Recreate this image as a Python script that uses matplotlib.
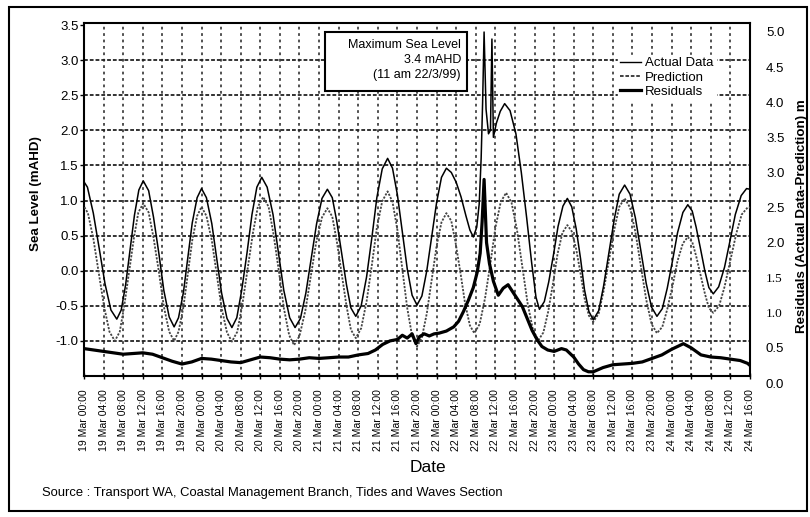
import numpy as np
import matplotlib.pyplot as plt
from matplotlib.patches import Rectangle
from matplotlib.lines import Line2D

plt.rcParams['font.family'] = ['Liberation Sans', 'DejaVu Sans']

# hours after 19 Mar 1999 00:00
actual_t = [-0.5, 0.7, 1.9, 3.1, 4.3, 5.5, 6.7, 7.6, 8.5, 9.4, 10.3, 11.2, 12.1,
            13.2, 14.2, 15.3, 16.3, 17.4, 18.4, 19.3, 20.3, 21.2, 22.1, 23.1, 24.0,
            25.0, 26.1, 27.1, 28.1, 29.2, 30.2, 31.2, 32.2, 33.3, 34.3, 35.3, 36.3,
            37.4, 38.6, 39.7, 40.8, 42.0, 43.1, 44.2, 45.3, 46.4, 47.5, 48.6, 49.7,
            50.7, 51.6, 52.6, 53.6, 54.5, 55.5, 56.6, 57.7, 58.8, 59.8, 60.9, 62.0,
            63, 64, 65, 66, 67, 68, 69, 70, 71, 72, 73, 74,
            75, 76, 77, 78, 78.8, 79.5, 80.2, 80.7, 81.1, 81.4, 81.7, 82.1, 82.6, 83.0,
            83.3, 83.6, 84.2, 85.0, 85.9, 87.0, 88.2, 89.3, 90.4, 91.4, 92.3, 93.0,
            94.0, 94.9, 95.9, 96.8, 97.8, 98.7, 99.6, 100.5, 101.4, 102.2, 103.1, 104.0,
            105.1, 106.1, 107.2, 108.3, 109.3, 110.4, 111.5, 112.6, 113.7, 114.8, 115.9, 117.0,
            118.1, 119.1, 120.2, 121.2, 122.3, 123.3, 124.2, 125.0, 125.9, 126.8, 127.6, 128.5,
            129.6, 130.8, 131.9, 133.0, 134.2, 135.3, 136.0]
actual_v = [1.32, 1.19, 0.82, 0.32, -0.19, -0.56, -0.69, -0.56, -0.20, 0.30, 0.79, 1.15, 1.28,
            1.14, 0.76, 0.24, -0.28, -0.66, -0.80, -0.67, -0.31, 0.19, 0.68, 1.04, 1.17,
            1.04, 0.67, 0.18, -0.32, -0.68, -0.81, -0.67, -0.28, 0.26, 0.80, 1.19, 1.33,
            1.19, 0.80, 0.26, -0.28, -0.67, -0.81, -0.68, -0.32, 0.18, 0.67, 1.03, 1.16,
            1.04, 0.71, 0.26, -0.20, -0.53, -0.65, -0.50, -0.09, 0.48, 1.04, 1.45, 1.60,
            1.46, 1.08, 0.56, 0.03, -0.35, -0.49, -0.36, 0.00, 0.49, 0.97, 1.33, 1.46,
            1.40, 1.26, 1.05, 0.78, 0.58, 0.48, 0.62, 0.95, 1.60, 2.40, 3.40, 2.30, 1.95, 2.00,
            3.30, 1.90, 2.10, 2.27, 2.38, 2.28, 1.95, 1.40, 0.75, 0.12, -0.38, -0.55,
            -0.44, -0.16, 0.24, 0.63, 0.92, 1.03, 0.91, 0.60, 0.17, -0.27, -0.58, -0.70,
            -0.57, -0.22, 0.26, 0.74, 1.09, 1.22, 1.09, 0.75, 0.29, -0.18, -0.52, -0.65,
            -0.54, -0.25, 0.15, 0.54, 0.83, 0.94, 0.85, 0.62, 0.31, -0.01, -0.24, -0.33,
            -0.23, 0.05, 0.42, 0.80, 1.07, 1.17, 1.16]

pred_t = [-0.3, 0.8, 1.9, 3.0, 4.1, 5.2, 6.3, 7.3, 8.2, 9.2, 10.2, 11.1, 12.1,
          13.2, 14.2, 15.3, 16.3, 17.4, 18.4, 19.3, 20.3, 21.2, 22.1, 23.1, 24.0,
          25.0, 26.1, 27.1, 28.1, 29.2, 30.2, 31.3, 32.3, 33.4, 34.5, 35.5, 36.6,
          37.7, 38.7, 39.8, 40.8, 41.9, 42.9, 44.0, 45.2, 46.3, 47.4, 48.6, 49.7,
          50.7, 51.6, 52.6, 53.6, 54.5, 55.5, 56.6, 57.7, 58.8, 59.8, 60.9, 62.0,
          63, 64, 65, 66, 67, 68, 69, 70, 71, 72, 73, 74,
          75.0, 75.9, 76.9, 77.8, 78.8, 79.7, 80.8, 81.9, 83.0, 84.0, 85.1, 86.2,
          87.3, 88.4, 89.5, 90.6, 91.7, 92.8, 93.8, 94.8, 95.8, 96.7, 97.7, 98.7,
          99.6, 100.5, 101.4, 102.2, 103.1, 104.0, 105.1, 106.1, 107.2, 108.3, 109.3, 110.4,
          111.5, 112.6, 113.7, 114.8, 115.9, 117.0, 118.1, 119.1, 120.2, 121.2, 122.3, 123.3,
          124.2, 125.0, 125.9, 126.8, 127.6, 128.5, 129.7, 130.8, 132.0, 133.2, 134.3, 135.5, 136.0]
pred_v = [0.95, 0.82, 0.46, -0.03, -0.51, -0.87, -1.00, -0.87, -0.51, -0.02, 0.47, 0.83, 0.96,
          0.83, 0.47, -0.02, -0.51, -0.87, -1.00, -0.87, -0.52, -0.05, 0.43, 0.78, 0.91,
          0.78, 0.43, -0.05, -0.53, -0.88, -1.01, -0.87, -0.50, 0.02, 0.54, 0.91, 1.05,
          0.91, 0.52, -0.01, -0.53, -0.92, -1.06, -0.93, -0.57, -0.09, 0.40, 0.76, 0.89,
          0.77, 0.43, -0.04, -0.50, -0.84, -0.96, -0.82, -0.44, 0.09, 0.61, 0.99, 1.13,
          0.98, 0.58, 0.03, -0.53, -0.93, -1.08, -0.95, -0.61, -0.13, 0.35, 0.69, 0.82,
          0.71, 0.39, -0.04, -0.46, -0.78, -0.89, -0.76, -0.39, 0.11, 0.61, 0.98, 1.11,
          0.97, 0.59, 0.06, -0.47, -0.85, -0.99, -0.88, -0.58, -0.17, 0.24, 0.54, 0.65,
          0.56, 0.31, -0.04, -0.39, -0.64, -0.73, -0.61, -0.29, 0.15, 0.59, 0.91, 1.03,
          0.90, 0.55, 0.07, -0.41, -0.76, -0.89, -0.80, -0.55, -0.21, 0.14, 0.39, 0.48,
          0.41, 0.21, -0.06, -0.33, -0.53, -0.60, -0.50, -0.23, 0.15, 0.53, 0.80, 0.90, 0.90]

resid_t = [0, 2, 4, 6, 8, 10, 12, 14, 16, 18, 20, 22, 24, 26, 28, 30, 32, 34, 36, 38, 40, 42, 44, 46,
           48, 50, 52, 54, 56, 58, 59.5, 61, 62.5, 64, 65, 66, 67, 67.8, 68.5, 69.5, 70.5, 71.5, 72.5,
           74, 75.5, 76.5, 77.5, 78.5, 79.5, 80.3, 80.9, 81.3, 81.7, 82.2, 82.8, 83.6, 84.6, 85.6, 86.6,
           88, 89.5, 90.5, 91.5, 92.5, 93.5, 94.7, 96, 97.5, 98.5, 100, 101, 102, 103, 104, 106, 108,
           110, 112, 114, 116, 118, 120, 122.4, 124, 126, 128, 130, 132, 134, 135.5, 136]
resid_v = [0.49, 0.47, 0.45, 0.43, 0.41, 0.42, 0.43, 0.41, 0.36, 0.31, 0.27, 0.30, 0.35, 0.34, 0.32, 0.30,
           0.29, 0.33, 0.37, 0.36, 0.34, 0.33, 0.34, 0.36, 0.35, 0.36, 0.37, 0.37, 0.40, 0.42, 0.47, 0.55,
           0.60, 0.62, 0.68, 0.64, 0.70, 0.56, 0.66, 0.70, 0.67, 0.70, 0.71, 0.74, 0.80, 0.88, 1.02, 1.18,
           1.36, 1.58, 1.85, 2.30, 2.90, 2.00, 1.70, 1.45, 1.25, 1.35, 1.40, 1.25, 1.09, 0.92, 0.75, 0.62,
           0.52, 0.47, 0.45, 0.49, 0.47, 0.37, 0.27, 0.19, 0.16, 0.16, 0.22, 0.26, 0.27, 0.28, 0.30, 0.35,
           0.40, 0.48, 0.56, 0.50, 0.40, 0.37, 0.36, 0.34, 0.32, 0.28, 0.25]

days = ['19', '20', '21', '22', '23', '24']
hours = ['00:00', '04:00', '08:00', '12:00', '16:00', '20:00']
tick_labels = [d + ' Mar ' + h for d in days for h in hours][:35]
tick_pos = np.arange(0, 137, 4)

W, H = 810, 517
fig = plt.figure(figsize=(W / 100, H / 100), dpi=100)

ax = fig.add_axes([84 / W, 1 - 376 / H, (750 - 84) / W, (376 - 23) / H])
ax.set_xlim(0, 136)
ax.set_ylim(-1.5, 3.5 + 2 / 70.2)

ax.plot(pred_t, pred_v, color='#444444', lw=1.3, ls=(0, (1.2, 0.8)), zorder=3)
ax.plot(actual_t, actual_v, color='black', lw=1.1, zorder=4, solid_joinstyle='round')

ax.set_yticks(np.arange(-1.0, 3.51, 0.5))
ax.set_yticklabels(['%.1f' % v for v in np.arange(-1.0, 3.51, 0.5)], fontsize=9.5)
ax.set_xticks(tick_pos)
ax.set_xticklabels(tick_labels, rotation=90, fontsize=7.6)
ax.tick_params(axis='y', length=3, width=1, pad=1)
ax.tick_params(axis='x', direction='inout', length=5, width=1, pad=7)

for v in np.arange(-1.0, 3.01, 0.5):
    ax.axhline(v, color='#222222', lw=1.3, ls=(0, (2.1, 1.1)), zorder=1)
for t in tick_pos[1:-1]:
    ax.axvline(t, color='#222222', lw=1.1, ls=(0, (1.8, 2.4)), zorder=1)
for s in ax.spines.values():
    s.set_linewidth(1.5)

# residual axis (scale sits slightly lower, as in the original)
ax2 = fig.add_axes([84 / W, 1 - 383 / H, (750 - 84) / W, (383 - 32) / H])
ax2.set_xlim(0, 136)
ax2.set_ylim(0, 5)
ax2.patch.set_visible(False)
for s in ax2.spines.values():
    s.set_visible(False)
ax2.set_xticks([])
ax2.yaxis.tick_right()
ax2.set_yticks(np.arange(0, 5.01, 0.5))
ax2.set_yticklabels(['%.1f' % v for v in np.arange(0, 5.01, 0.5)], fontsize=9.5)
ax2.tick_params(axis='y', length=0, pad=11.5)
for lab in ax2.get_yticklabels():
    if lab.get_text() in ('1.0', '1.5'):
        lab.set_fontfamily('Liberation Serif')
ax2.plot(resid_t, resid_v, color='black', lw=2.3, solid_joinstyle='round', zorder=5)

handles = [Line2D([], [], color='black', lw=1.0),
           Line2D([], [], color='#333333', lw=1.3, ls=(0, (2, 1))),
           Line2D([], [], color='black', lw=2.3)]
leg = ax.legend(handles, ['Actual Data', 'Prediction', 'Residuals'], loc='upper left',
                bbox_to_anchor=(611 / W, 1 - 48 / H), bbox_transform=fig.transFigure,
                fontsize=9.5, frameon=True, fancybox=False, facecolor='white', edgecolor='white',
                framealpha=1, handlelength=1.6, handletextpad=0.3, labelspacing=0.15, borderpad=0.2)
leg.set_zorder(10)

fig.patches.append(Rectangle((325 / W, 1 - 91 / H), 142 / W, 59 / H, transform=fig.transFigure,
                             facecolor='white', edgecolor='black', lw=1.5, zorder=5))
for i, line in enumerate(['Maximum Sea Level', '3.4 mAHD', '(11 am 22/3/99)']):
    fig.text(461 / W, 1 - (45 + 15 * i) / H, line, ha='right', va='center', fontsize=9, zorder=6)

fig.text(36 / W, 1 - 194 / H, 'Sea Level (mAHD)', rotation=90, ha='center', va='center',
         fontsize=9.6, fontweight='bold')
fig.text(802 / W, 1 - 216 / H, 'Residuals (Actual Data-Prediction) m', rotation=90,
         ha='center', va='center', fontsize=9.6, fontweight='bold')
fig.text(428 / W, 1 - 468 / H, 'Date', ha='center', va='center', fontsize=12.5)
fig.text(42 / W, 1 - 493 / H, 'Source : Transport WA, Coastal Management Branch, Tides and Waves Section',
         ha='left', va='center', fontsize=9.4)

fig.patches.append(Rectangle((9 / W, 1 - 511 / H), 798 / W, 504 / H, transform=fig.transFigure,
                             facecolor='none', edgecolor='black', lw=1.5, zorder=0))

fig.savefig('out.png', dpi=100)
